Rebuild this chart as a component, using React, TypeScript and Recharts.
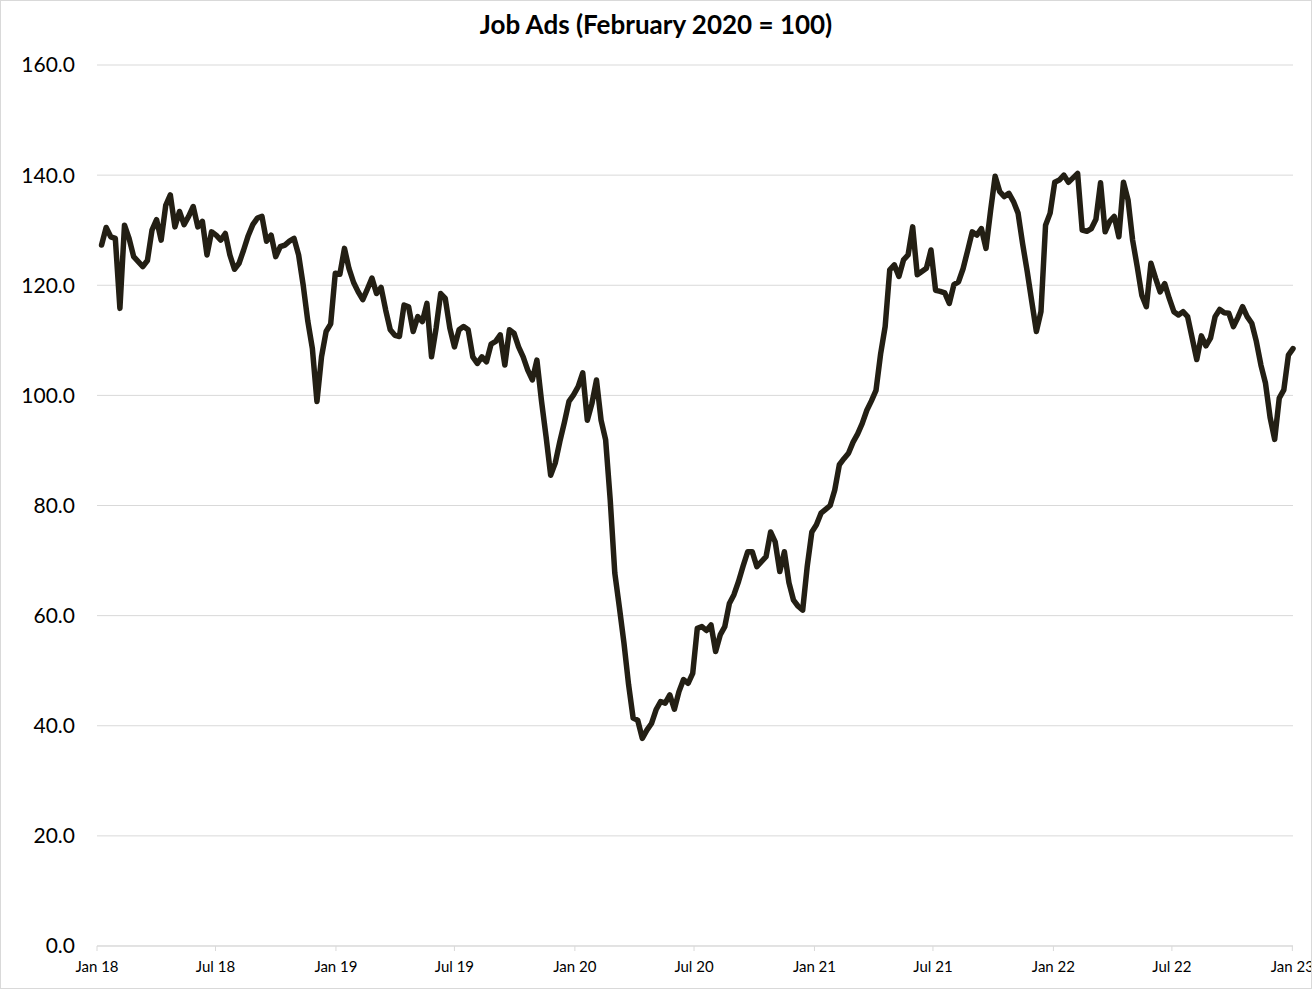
import React from "react";
import { LineChart, Line, XAxis, YAxis, CartesianGrid } from "recharts";

// Weekly job ads index (February 2020 = 100), weeks starting Monday 8 Jan 2018
const firstWeek = "2018-01-08";

const weeks2018 = [
  127.3, 130.5, 128.8, 128.5, 115.8, 130.9, 128.5, 125.2, 124.3, 123.4,
  124.5, 130.0, 131.9, 128.2, 134.5, 136.4, 130.6, 133.4, 131.0, 132.5,
  134.3, 130.6, 131.6, 125.5, 129.7, 129.1, 128.2, 129.4, 125.5, 122.9,
  124.0, 126.4, 129.0, 131.0, 132.2, 132.5, 128.0, 129.1, 125.2, 127.0,
  127.3, 128.0, 128.5, 125.5, 120.0, 113.5, 108.5, 98.9, 107.0, 111.6,
  113.0, 122.2,
];
const weeks2019 = [
  122.0, 126.7, 123.0, 120.5, 118.8, 117.4, 119.3, 121.3, 118.5, 119.6,
  115.5, 111.9, 110.9, 110.7, 116.4, 116.1, 111.6, 114.3, 113.4, 116.7,
  107.0, 112.2, 118.5, 117.6, 112.2, 108.8, 111.9, 112.5, 111.9, 107.0,
  105.8, 107.0, 106.1, 109.3, 109.8, 111.0, 105.5, 111.9, 111.3, 108.8,
  107.0, 104.6, 102.8, 106.4, 99.0, 92.5, 85.5, 87.7, 91.6, 95.1,
  98.9, 100.1,
];
const weeks2020 = [
  101.6, 104.1, 95.5, 98.5, 102.8, 95.5, 91.9, 81.0, 67.7, 61.5,
  55.0, 47.5, 41.4, 41.0, 37.7, 39.2, 40.4, 42.9, 44.4, 44.1,
  45.6, 43.0, 46.2, 48.4, 47.7, 49.5, 57.7, 58.0, 57.3, 58.3,
  53.5, 56.5, 58.0, 62.2, 63.8, 66.2, 69.0, 71.6, 71.6, 68.9,
  69.8, 70.7, 75.2, 73.4, 68.0, 71.6, 66.0, 62.8, 61.7, 61.0,
  69.0, 75.2,
];
const weeks2021 = [
  76.5, 78.6, 79.3, 80.0, 82.8, 87.4, 88.5, 89.5, 91.5, 93.0,
  94.9, 97.3, 99.0, 100.9, 107.5, 112.5, 122.8, 123.7, 121.6, 124.6,
  125.5, 130.6, 121.9, 122.5, 123.1, 126.4, 119.1, 118.9, 118.6, 116.7,
  120.1, 120.6, 123.0, 126.3, 129.7, 129.1, 130.3, 126.7, 133.5, 139.8,
  137.0, 136.1, 136.7, 135.2, 133.1, 127.5, 122.5, 117.0, 111.6, 115.2,
  130.9, 133.1,
];
const weeks2022 = [
  138.7, 139.1, 140.0, 138.7, 139.5, 140.3, 130.0, 129.8, 130.3, 132.0,
  138.6, 129.7, 131.6, 132.5, 128.8, 138.7, 135.5, 128.2, 123.4, 118.2,
  116.1, 124.0, 121.3, 118.8, 120.3, 117.6, 115.2, 114.6, 115.2, 114.3,
  110.4, 106.5, 110.8, 109.0, 110.4, 114.3, 115.6, 115.0, 114.9, 112.5,
  114.2, 116.1, 114.3, 113.1, 109.8, 105.5, 102.2, 96.0, 92.0, 99.5,
  101.0, 107.3,
];
const weeks2023 = [108.5];

const tickDates = [
  "2018-01-01", "2018-07-01", "2019-01-01", "2019-07-01", "2020-01-01", "2020-07-01",
  "2021-01-01", "2021-07-01", "2022-01-01", "2022-07-01", "2023-01-01",
];
const tickLabels = [
  "Jan 18", "Jul 18", "Jan 19", "Jul 19", "Jan 20", "Jul 20",
  "Jan 21", "Jul 21", "Jan 22", "Jul 22", "Jan 23",
];
const yTicks = [0, 20, 40, 60, 80, 100, 120, 140, 160];
const title = "Job Ads (February 2020 = 100)";

const DAY = 86400000;
const origin = Date.parse(tickDates[0] + "T00:00:00Z");
const dayOf = (iso: string) => Math.round((Date.parse(iso + "T00:00:00Z") - origin) / DAY);

const allWeeks = [...weeks2018, ...weeks2019, ...weeks2020, ...weeks2021, ...weeks2022, ...weeks2023];
const startDay = dayOf(firstWeek);
const data = allWeeks.map((v, i) => ({ day: startDay + 7 * i, value: v }));
const tickDays = tickDates.map(dayOf);
const labelByDay: Record<number, string> = {};
tickDays.forEach((d, i) => (labelByDay[d] = tickLabels[i]));

const FONT = "Lato, 'Open Sans', sans-serif";

export default function App() {
  return (
    <div
      style={{
        position: "absolute",
        left: 0,
        top: 0,
        width: 1312,
        height: 989,
        overflow: "hidden",
        background: "#ffffff",
        fontFamily: FONT,
      }}
    >
      <div
        style={{
          position: "absolute",
          left: 0,
          top: 11,
          width: 1312,
          textAlign: "center",
          fontSize: 26,
          lineHeight: "26px",
          fontWeight: 700,
          color: "#000",
        }}
      >
        {title}
      </div>
      <LineChart width={1312} height={989} data={data} margin={{ top: 65, right: 19, bottom: 0, left: 0 }}>
        <CartesianGrid horizontal vertical={false} stroke="#d9d9d9" strokeWidth={1} />
        <XAxis
          type="number"
          dataKey="day"
          domain={[0, 1827]}
          ticks={tickDays}
          tickFormatter={(d: number) => labelByDay[d] ?? ""}
          interval={0}
          height={43}
          axisLine={{ stroke: "#d9d9d9" }}
          tickLine={{ stroke: "#d9d9d9" }}
          tickSize={5}
          tickMargin={10}
          tick={{ fill: "#000", fontSize: 15, fontFamily: FONT }}
        />
        <YAxis
          type="number"
          domain={[0, 160]}
          ticks={yTicks}
          interval={0}
          width={97}
          axisLine={false}
          tickLine={false}
          tickSize={0}
          tickMargin={22}
          tickFormatter={(v: number) => v.toFixed(1)}
          tick={{ fill: "#000", fontSize: 21, fontFamily: FONT }}
        />
        <Line
          type="linear"
          dataKey="value"
          stroke="#231f14"
          strokeWidth={5.5}
          strokeLinejoin="round"
          strokeLinecap="round"
          dot={false}
          activeDot={false}
          isAnimationActive={false}
        />
      </LineChart>
      <div
        style={{
          position: "absolute",
          left: 0,
          top: 0,
          width: 1312,
          height: 989,
          boxSizing: "border-box",
          border: "1px solid #d9d9d9",
          pointerEvents: "none",
        }}
      />
    </div>
  );
}
